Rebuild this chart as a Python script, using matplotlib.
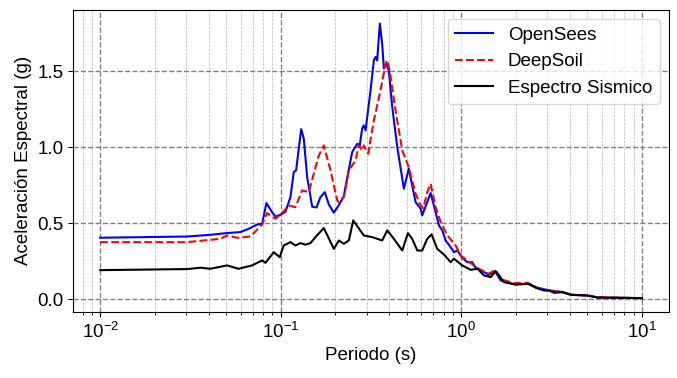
import numpy as np
import matplotlib.pyplot as plt
from matplotlib.ticker import MultipleLocator

# OpenSees spectrum
T_os = [0.0100, 0.0303, 0.0407, 0.0504, 0.0598, 0.0665, 0.0740, 0.0789, 0.0833, 0.0896,
        0.0935, 0.0996, 0.1062, 0.1132, 0.1181, 0.1217, 0.1298, 0.1342, 0.1401, 0.1494,
        0.1578, 0.1660, 0.1754, 0.1846, 0.1968, 0.2098, 0.2236, 0.2335, 0.2489, 0.2653,
        0.2740, 0.2824, 0.2883, 0.2950, 0.3144, 0.3280, 0.3351, 0.3421, 0.3540, 0.3646,
        0.3727, 0.3842, 0.3967, 0.4147, 0.4420, 0.4809, 0.5120, 0.5585, 0.5954, 0.6077,
        0.6766, 0.7211, 0.7520, 0.7850, 0.8195, 0.8730, 0.9110, 0.9510, 1.013, 1.080,
        1.151, 1.202, 1.309, 1.424, 1.538, 1.654, 1.961, 2.326, 2.643, 3.065,
        3.637, 4.045, 5.006, 5.686, 7.659, 10.0]
Sa_os = [0.406, 0.414, 0.425, 0.437, 0.443, 0.465, 0.493, 0.498, 0.634, 0.574,
         0.545, 0.557, 0.576, 0.673, 0.838, 0.849, 1.120, 1.057, 0.805, 0.610,
         0.605, 0.673, 0.706, 0.625, 0.571, 0.620, 0.680, 0.800, 0.970, 1.024,
         1.013, 1.123, 1.145, 1.112, 1.375, 1.572, 1.594, 1.572, 1.814, 1.682,
         1.518, 1.550, 1.507, 1.265, 1.002, 0.728, 0.860, 0.640, 0.597, 0.553,
         0.700, 0.574, 0.487, 0.454, 0.388, 0.344, 0.311, 0.322, 0.274, 0.245,
         0.245, 0.209, 0.186, 0.162, 0.186, 0.125, 0.099, 0.103, 0.077, 0.059,
         0.048, 0.031, 0.026, 0.013, 0.011, 0.009]

# DeepSoil spectrum
T_ds = [0.0100, 0.0303, 0.0463, 0.0504, 0.0573, 0.0679, 0.0789, 0.0841, 0.0935, 0.0996,
        0.1108, 0.1206, 0.1313, 0.1430, 0.1524, 0.1625, 0.1732, 0.1887, 0.2055, 0.2098,
        0.2236, 0.2384, 0.2596, 0.2708, 0.2824, 0.2883, 0.3053, 0.3280, 0.3573, 0.3808,
        0.3891, 0.4009, 0.4325, 0.4712, 0.5120, 0.5585, 0.5954, 0.6163, 0.6480, 0.6766,
        0.7211, 0.7687, 0.8375, 0.9309, 0.9924, 1.080, 1.172, 1.281, 1.424, 1.538,
        1.690, 1.961, 2.326, 2.643, 3.065, 3.637, 4.045, 5.006, 5.686, 7.659, 10.0]
Sa_ds = [0.377, 0.377, 0.399, 0.421, 0.406, 0.414, 0.493, 0.568, 0.531, 0.557,
         0.618, 0.607, 0.717, 0.706, 0.827, 0.947, 1.013, 0.849, 0.651, 0.640,
         0.673, 0.849, 0.914, 1.013, 0.980, 1.013, 0.958, 1.178, 1.375, 1.550,
         1.572, 1.507, 1.243, 0.980, 0.870, 0.695, 0.618, 0.600, 0.706, 0.761,
         0.607, 0.509, 0.421, 0.355, 0.289, 0.257, 0.224, 0.195, 0.169, 0.195,
         0.130, 0.107, 0.110, 0.077, 0.060, 0.049, 0.032, 0.027, 0.014, 0.011, 0.009]

# input (seismic) spectrum
T_in = [0.0100, 0.0303, 0.0359, 0.0407, 0.0504, 0.0584, 0.0694, 0.0789, 0.0823, 0.0915,
        0.0987, 0.1039, 0.1132, 0.1206, 0.1286, 0.1371, 0.1461, 0.1558, 0.1732, 0.1968,
        0.2098, 0.2236, 0.2384, 0.2521, 0.2883, 0.3213, 0.3646, 0.3891, 0.4233, 0.4712,
        0.5062, 0.5347, 0.5708, 0.6077, 0.6480, 0.6850, 0.7360, 0.8017, 0.8730, 0.9110,
        1.013, 1.127, 1.229, 1.336, 1.456, 1.551, 1.725, 2.004, 2.374, 2.586,
        2.875, 3.065, 3.268, 3.637, 4.045, 5.006, 5.686, 7.659, 10.0]
Sa_in = [0.193, 0.200, 0.209, 0.202, 0.224, 0.202, 0.224, 0.257, 0.241, 0.311,
         0.278, 0.355, 0.377, 0.355, 0.371, 0.360, 0.371, 0.410, 0.470, 0.333,
         0.388, 0.366, 0.388, 0.520, 0.421, 0.410, 0.388, 0.454, 0.399, 0.322,
         0.436, 0.399, 0.322, 0.322, 0.399, 0.428, 0.333, 0.296, 0.245, 0.268,
         0.224, 0.195, 0.202, 0.158, 0.147, 0.186, 0.114, 0.099, 0.103, 0.077,
         0.059, 0.059, 0.044, 0.048, 0.031, 0.026, 0.013, 0.011, 0.009]

plt.rcParams['font.family'] = ['Liberation Sans', 'DejaVu Sans']
plt.rcParams['font.size'] = 13.5

fig, ax = plt.subplots(figsize=(6.77, 3.78), dpi=100)
fig.subplots_adjust(left=0.108, right=0.988, bottom=0.175, top=0.974)

ax.plot(T_os, Sa_os, color='blue', lw=1.5, label='OpenSees')
ax.plot(T_ds, Sa_ds, color='red', lw=1.5, ls='--', label='DeepSoil')
ax.plot(T_in, Sa_in, color='black', lw=1.5, label='Espectro Sismico')

ax.set_xscale('log')
ax.yaxis.set_major_locator(MultipleLocator(0.5))
ax.set_xlabel('Periodo (s)')
ax.set_ylabel('Aceleración Espectral (g)')
ax.grid(True, which='major', ls='--', color='gray', lw=1)
ax.grid(True, which='minor', axis='x', ls='--', color='gray', lw=0.5, alpha=0.6)
ax.legend(loc='upper right')

fig.savefig('out.png', dpi=100)
